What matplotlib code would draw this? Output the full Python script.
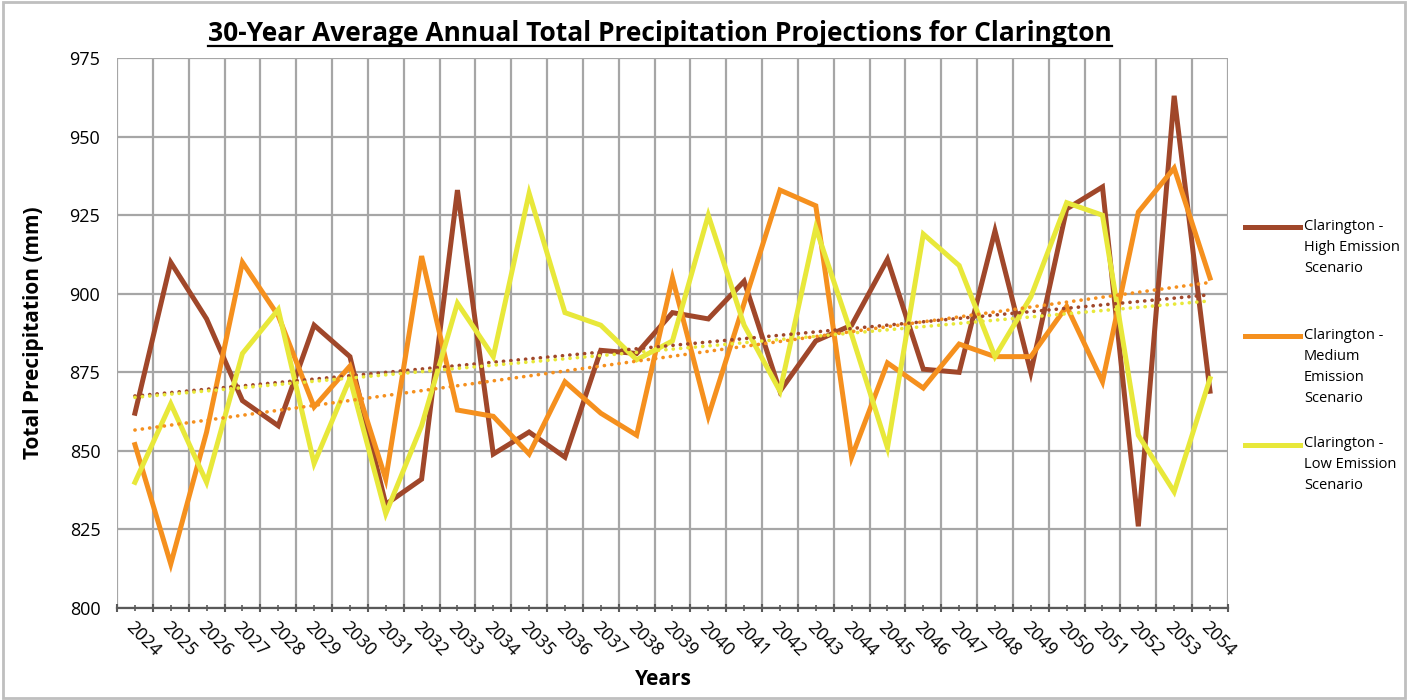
import numpy as np
import matplotlib.pyplot as plt
from matplotlib.patches import Rectangle
from matplotlib.lines import Line2D

plt.rcParams['font.family'] = ['Open Sans', 'DejaVu Sans']

years = [str(y) for y in range(2024, 2055)]
high = [862, 910, 892, 866, 858, 890, 880, 833, 841, 933,
        849, 856, 848, 882, 881, 894, 892, 904, 869, 885,
        890, 911, 876, 875, 920, 875, 927, 934, 826, 963, 869]
medium = [852, 814, 856, 910, 893, 864, 877, 841, 912, 863,
          861, 849, 872, 862, 855, 905, 861, 897, 933, 928,
          848, 878, 870, 884, 880, 880, 896, 872, 926, 940, 905]
low = [840, 865, 840, 881, 895, 846, 873, 830, 858, 897,
       880, 932, 894, 890, 879, 885, 925, 890, 869, 921,
       887, 851, 919, 909, 880, 899, 929, 925, 855, 837, 873]

names = ['Clarington -\nHigh Emission\nScenario',
         'Clarington -\nMedium\nEmission\nScenario',
         'Clarington -\nLow Emission\nScenario']
colors = ['#A0472A', '#F5901E', '#E8E83A']

fig = plt.figure(figsize=(14.08, 7), dpi=100)
ax = fig.add_axes([0.0831, 0.1314, 0.7890, 0.7856])

x = np.arange(len(years))
for vals, c in zip([high, medium, low], colors):
    ax.plot(x, vals, color=c, lw=3.6, solid_joinstyle='miter', zorder=3)
for vals, c in zip([high, medium, low], colors):
    k, b = np.polyfit(x, vals, 1)
    ax.plot(x, k * x + b, color=c, lw=2.6, ls=(0, (0.05, 2.0)),
            dash_capstyle='round', zorder=4)

ax.set_xlim(-0.5, len(years) - 0.5)
ax.set_ylim(800, 975)
ax.set_yticks(np.arange(800, 976, 25))
ax.set_xticks(np.arange(-0.5, len(years), 1))
ax.set_xticklabels([])
ax.set_xticks(x, minor=True)
ax.set_xticklabels(years, minor=True, rotation=-45, ha='left', va='top',
                   rotation_mode='anchor', fontsize=13)
ax.tick_params(axis='x', which='major', length=6, width=1.5, color='#595959',
               direction='inout')
ax.tick_params(axis='x', which='minor', length=4, width=1.2, color='#595959',
               direction='inout', pad=5)
ax.tick_params(axis='y', length=0, labelsize=13, pad=12)

ax.grid(True, which='major', color='#A6A6A6', lw=1.6, zorder=0)
for s in ['top', 'right', 'left']:
    ax.spines[s].set_visible(False)
ax.spines['bottom'].set_color('#595959')
ax.spines['bottom'].set_linewidth(1.6)

ax.set_ylabel('Total Precipitation (mm)', fontsize=15, fontweight='bold', labelpad=18)
fig.text(0.471, 0.029, 'Years', ha='center', va='center', fontsize=15, fontweight='bold')

title = fig.text(0.469, 0.952, '30-Year Average Annual Total Precipitation Projections for Clarington',
                 ha='center', va='center', fontsize=19, fontweight='bold')
fig.canvas.draw()
bb = title.get_window_extent().transformed(fig.transFigure.inverted())
fig.add_artist(Line2D([bb.x0, bb.x1], [bb.y0 + 0.002, bb.y0 + 0.002],
                      color='black', lw=1.6, transform=fig.transFigure))

# legend on the right
leg_y = [0.675, 0.52, 0.365]
for n, c, ly in zip(names, colors, leg_y):
    fig.add_artist(Line2D([0.884, 0.923], [ly, ly], color=c, lw=3.6,
                          transform=fig.transFigure))
    fig.text(0.926, ly + 0.012, n, ha='left', va='top', fontsize=10.5,
             linespacing=1.55)

fig.add_artist(Rectangle((0.002, 0.003), 0.996, 0.994, transform=fig.transFigure,
                         fill=False, edgecolor='#BFBFBF', lw=2))

fig.savefig('out.png', dpi=100)
